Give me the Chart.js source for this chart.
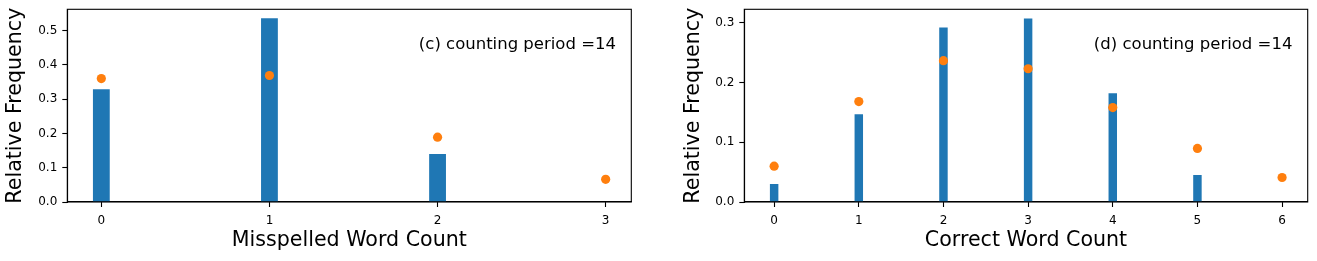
<!DOCTYPE html>
<html>
<head>
<meta charset="utf-8">
<script src="https://cdn.jsdelivr.net/npm/chart.js@4/dist/chart.umd.min.js"></script>
<style>
    html, body { margin: 0; padding: 0; background: #fff; }
    #wrap { position: relative; width: 1317px; height: 261px; overflow: hidden; }
    .panel { position: absolute; top: 0; height: 261px; }
</style>
</head>
<body>
<div id="wrap">
    <div class="panel" style="left:0;width:660px"><canvas id="chartC" width="660" height="261"></canvas></div>
    <div class="panel" style="left:660px;width:657px"><canvas id="chartD" width="657" height="261"></canvas></div>
</div>
<script>
// (c) misspelled word count
const misCounts = [0, 1, 2, 3];
const misObserved = [0.329, 0.536, 0.140, 0];
const misModel = [0.360, 0.369, 0.189, 0.066];
const misYTicks = [0, 0.1, 0.2, 0.3, 0.4, 0.5];

// (d) correct word count
const corCounts = [0, 1, 2, 3, 4, 5, 6];
const corObserved = [0.030, 0.147, 0.292, 0.307, 0.182, 0.045, 0];
const corModel = [0.060, 0.168, 0.2365, 0.223, 0.158, 0.0896, 0.041];
const corYTicks = [0, 0.1, 0.2, 0.3];

const FONT = 'DejaVu Sans';
const BLUE = '#1f77b4';
const ORANGE = '#ff7f0e';

// axes box + in-plot label, matplotlib style
const framePlugin = {
    id: 'frame',
    afterDraw(chart, args, opts) {
        const { ctx, chartArea: a } = chart;
        ctx.save();
        ctx.strokeStyle = '#000';
        ctx.lineWidth = 1.1;
        ctx.strokeRect(a.left, a.top, a.right - a.left, a.bottom - a.top);
        if (opts.label) {
            ctx.fillStyle = '#000';
            ctx.font = '16.5px "' + FONT + '"';
            ctx.textAlign = 'right';
            ctx.textBaseline = 'alphabetic';
            ctx.fillText(opts.label, a.right - 15.3, 49.3);
        }
        ctx.restore();
    },
};

function makeChart(id, counts, observed, model, yTicks, opt) {
    const ctx = document.getElementById(id);
    return new Chart(ctx, {
        type: 'bar',
        data: {
            datasets: [{
                type: 'bar',
                data: counts.map((c, i) => ({ x: c, y: observed[i] })),
                backgroundColor: BLUE,
                borderWidth: 0,
                barPercentage: 0.1,
                categoryPercentage: 1,
                order: 2,
            }, {
                type: 'scatter',
                data: counts.map((c, i) => ({ x: c, y: model[i] })),
                backgroundColor: ORANGE,
                borderColor: ORANGE,
                borderWidth: 0,
                pointRadius: 4.6,
                order: 1,
            }],
        },
        options: {
            responsive: false,
            animation: false,
            events: [],
            layout: {
                padding: { top: 9.3, right: opt.padRight, bottom: 0, left: 0 },
            },
            scales: {
                x: {
                    type: 'linear',
                    min: opt.xMin,
                    max: opt.xMax,
                    offset: false,
                    afterBuildTicks: (axis) => {
                        axis.ticks = counts.map(v => ({ value: v }));
                    },
                    afterFit: (axis) => {
                        axis.height = 59;
                        axis.paddingLeft = 0;
                        axis.paddingRight = 0;
                    },
                    grid: {
                        offset: false,
                        drawOnChartArea: false,
                        drawTicks: true,
                        tickLength: 5,
                        tickColor: '#000',
                        tickWidth: 1.1,
                    },
                    border: { display: true, color: '#000', width: 1.1 },
                    ticks: {
                        color: '#000',
                        font: { family: FONT, size: 12 },
                        padding: 6.3,
                        maxRotation: 0,
                        callback: (v) => String(v),
                    },
                    title: {
                        display: true,
                        text: opt.xTitle,
                        color: '#000',
                        font: { family: FONT, size: 20.6 },
                        padding: { top: 0, bottom: 7.6 },
                    },
                },
                y: {
                    min: 0,
                    max: opt.yMax,
                    afterBuildTicks: (axis) => {
                        axis.ticks = yTicks.map(v => ({ value: v }));
                    },
                    afterFit: (axis) => {
                        axis.width = opt.plotLeft;
                        axis.paddingTop = 0;
                        axis.paddingBottom = 0;
                    },
                    grid: {
                        offset: false,
                        drawOnChartArea: false,
                        drawTicks: true,
                        tickLength: 5,
                        tickColor: '#000',
                        tickWidth: 1.1,
                    },
                    border: { display: true, color: '#000', width: 1.1 },
                    ticks: {
                        color: '#000',
                        font: { family: FONT, size: 12 },
                        padding: 5,
                        callback: (v) => v.toFixed(1),
                    },
                    title: {
                        display: true,
                        text: 'Relative Frequency',
                        color: '#000',
                        font: { family: FONT, size: 20.6 },
                        padding: { top: opt.yTitlePad, bottom: 0 },
                    },
                },
            },
            plugins: {
                legend: { display: false },
                tooltip: { enabled: false },
                frame: { label: opt.label },
            },
        },
        plugins: [framePlugin],
    });
}

makeChart('chartC', misCounts, misObserved, misModel, misYTicks, {
    xMin: -0.2025, xMax: 3.1525, yMax: 0.562,
    plotLeft: 67.3, padRight: 28.7, yTitlePad: 3.6,
    xTitle: 'Misspelled Word Count',
    label: '(c) counting period =14',
});

makeChart('chartD', corCounts, corObserved, corModel, corYTicks, {
    xMin: -0.3525, xMax: 6.3025, yMax: 0.3225,
    plotLeft: 84.3, padRight: 9.3, yTitlePad: 21.5,
    xTitle: 'Correct Word Count',
    label: '(d) counting period =14',
});
</script>
</body>
</html>
